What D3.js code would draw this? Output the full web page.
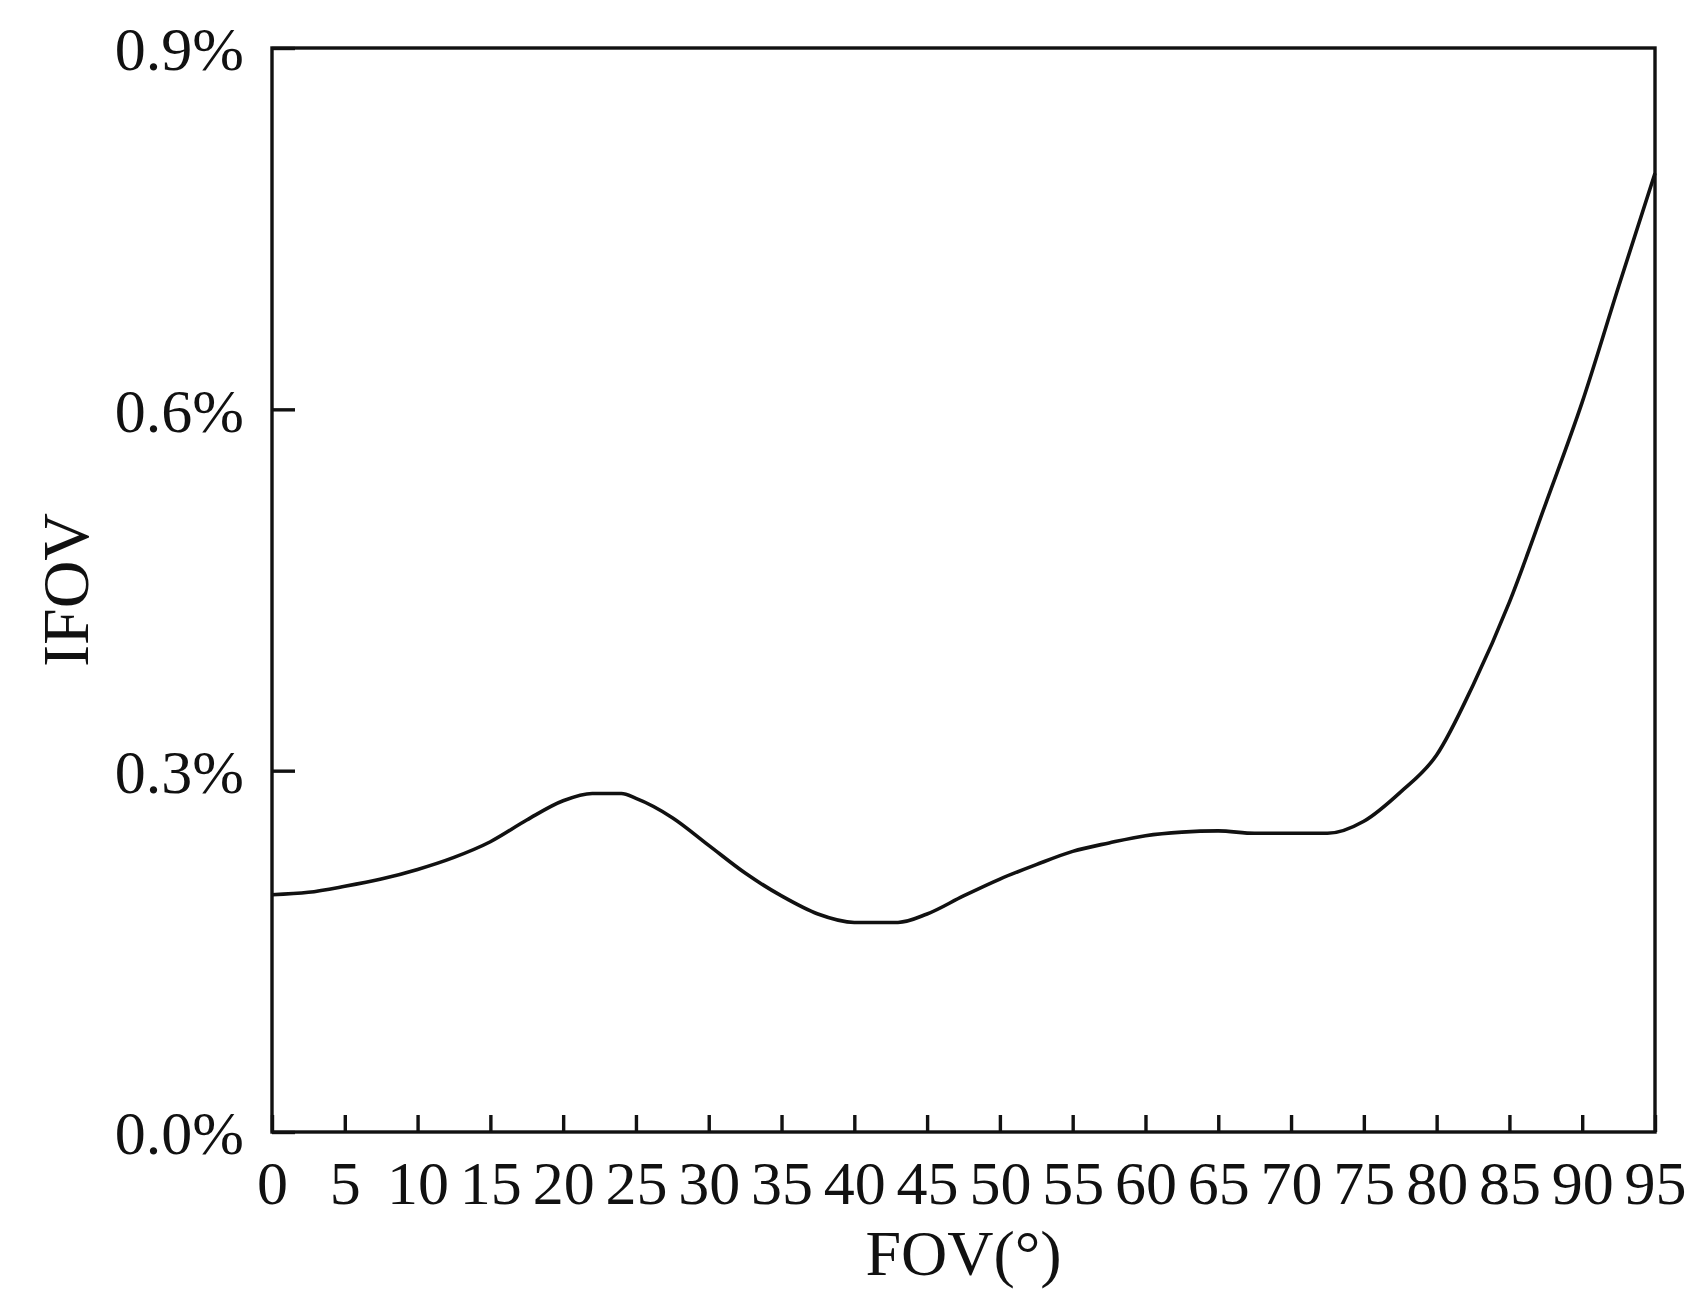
<!DOCTYPE html>
<html>
<head>
<meta charset="utf-8">
<script src="https://cdn.jsdelivr.net/npm/d3@7"></script>
<style>
  body { margin: 0; background: #fff; }
  text { font-family: "Liberation Serif", "Times New Roman", serif; fill: #111; }
</style>
</head>
<body>
<div id="chart"></div>
<script>
//============IFOV vs FOV=========//
// curve samples (FOV in degrees, IFOV in %)
var fov  = [0, 2.5, 5, 7.5, 10, 12.5, 15, 17.5, 20, 22, 24, 25, 27.5, 30, 32.5, 35, 37.5, 40, 43, 45, 47.5, 50,
            52.5, 55, 57.5, 60, 62.5, 65, 67.5, 70, 72.5, 75, 77.5, 80, 82.5, 85, 87.5, 90, 92.5, 95];
var ifov = [0.197, 0.199, 0.204, 0.210, 0.218, 0.228, 0.241, 0.259, 0.275, 0.281, 0.281, 0.277, 0.261, 0.238,
            0.215, 0.196, 0.181, 0.174, 0.174, 0.181, 0.196, 0.210, 0.222, 0.233, 0.240, 0.246, 0.249, 0.250,
            0.248, 0.248, 0.248, 0.258, 0.282, 0.313, 0.371, 0.440, 0.522, 0.606, 0.702, 0.796];
var xTicks = d3.range(0, 96, 5);
var yTicks = [0, 0.3, 0.6, 0.9];

var W = 1702, H = 1310;
var margin = {top: 48, right: 47, bottom: 178, left: 272};
var width = W - margin.left - margin.right,
    height = H - margin.top - margin.bottom;

var svg = d3.select('#chart').append('svg')
  .attr('width', W)
  .attr('height', H);

var g = svg.append('g')
  .attr('transform', 'translate(' + margin.left + ',' + margin.top + ')');

var x = d3.scaleLinear().domain([0, 95]).range([0, width]);
var y = d3.scaleLinear().domain([0, 0.9]).range([height, 0]);

// x axis: ticks point inward
var xAxis = g.append('g')
  .attr('transform', 'translate(0,' + height + ')')
  .call(d3.axisBottom(x).tickValues(xTicks).tickSize(-17).tickPadding(28).tickFormat(d3.format('d')));

// y axis
var yAxis = g.append('g')
  .call(d3.axisLeft(y).tickValues(yTicks).tickSize(-23).tickPadding(28)
    .tickFormat(function(d) { return d.toFixed(1) + '%'; }));

[xAxis, yAxis].forEach(function(a) {
  a.select('.domain').remove();
  a.selectAll('line').attr('stroke', '#111').attr('stroke-width', 3.4);
  a.selectAll('text').style('font-size', '62px').style('fill', '#111')
    .style('font-family', '"Liberation Serif", "Times New Roman", serif');
});
xAxis.selectAll('text').attr('dy', '0.71em');
yAxis.selectAll('text').attr('dy', '0.35em');

// frame
g.append('rect')
  .attr('width', width)
  .attr('height', height)
  .attr('fill', 'none')
  .attr('stroke', '#111')
  .attr('stroke-width', 3.4);

// curve
var line = d3.line()
  .x(function(d, i) { return x(fov[i]); })
  .y(function(d) { return y(d); })
  .curve(d3.curveMonotoneX);

g.append('path')
  .datum(ifov)
  .attr('d', line)
  .attr('fill', 'none')
  .attr('stroke', '#111')
  .attr('stroke-width', 3.6)
  .attr('stroke-linejoin', 'round');

// axis titles
svg.append('text')
  .attr('x', margin.left + width / 2)
  .attr('y', 1275)
  .attr('text-anchor', 'middle')
  .style('font-size', '64px')
  .text('FOV(°)');

svg.append('text')
  .attr('transform', 'translate(88,' + (margin.top + height / 2) + ') rotate(-90)')
  .attr('text-anchor', 'middle')
  .style('font-size', '66px')
  .text('IFOV');
</script>
</body>
</html>
